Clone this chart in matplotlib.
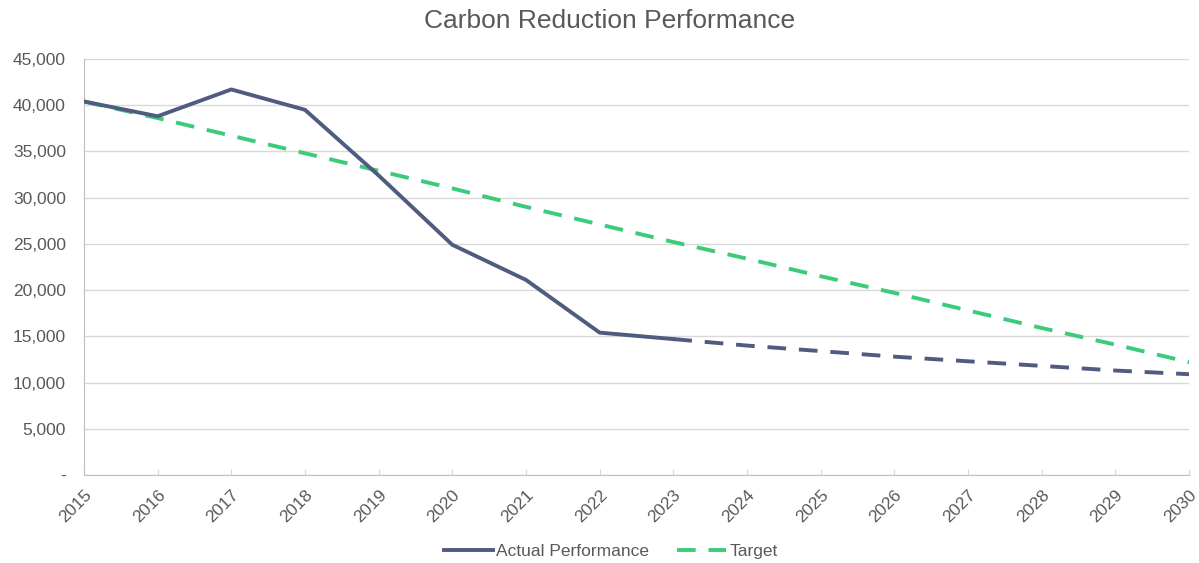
import matplotlib
matplotlib.use('Agg')
import matplotlib.pyplot as plt
from matplotlib.ticker import FuncFormatter

plt.rcParams['font.family'] = ['Liberation Sans', 'DejaVu Sans']

years = list(range(2015, 2031))
actual_years = [2015, 2016, 2017, 2018, 2019, 2020, 2021, 2022, 2023]
actual = [40400, 38800, 41700, 39500, 32400, 24900, 21100, 15400, 14700]
proj_years = [2023, 2024, 2025, 2026, 2027, 2028, 2029, 2030]
projected = [14700, 14000, 13400, 12800, 12300, 11800, 11300, 10900]
target = [40400, 38600, 36700, 34800, 32900, 31000, 29000, 27100,
          25200, 23400, 21500, 19700, 17800, 15900, 14100, 12200]

navy = '#4F5B7F'
green = '#3CCB7A'
grey = '#595959'

fig = plt.figure(figsize=(11.99, 5.63), dpi=100)
ax = fig.add_axes([0.070, 0.1563, 0.9217, 0.739])

ax.plot(years, target, color=green, lw=2.8, dashes=(4.8, 3.3), label='Target', zorder=3)
ax.plot(actual_years, actual, color=navy, lw=2.8, label='Actual Performance', zorder=4)
ax.plot(proj_years, projected, color=navy, lw=2.8, dashes=(4.8, 3.3), zorder=4)

ax.set_xlim(2015, 2030)
ax.set_ylim(0, 45000)
ax.set_xticks(years)
ax.set_xticklabels([str(y) for y in years], rotation=45, ha='right', rotation_mode='anchor')
ax.set_yticks(range(0, 45001, 5000))
ax.yaxis.set_major_formatter(FuncFormatter(lambda v, p: '-' if v == 0 else f'{int(v):,}'))

ax.grid(axis='y', color='#D9D9D9', lw=1)
ax.set_axisbelow(True)
for s in ['top', 'right']:
    ax.spines[s].set_visible(False)
for s in ['left', 'bottom']:
    ax.spines[s].set_color('#BFBFBF')
ax.tick_params(axis='y', length=0, labelsize=12.5, colors=grey, pad=13)
ax.tick_params(axis='x', direction='in', length=4, color='#D9D9D9', labelsize=12.5, labelcolor=grey, pad=9)
for lbl in ax.get_xticklabels():
    lbl.set_x(lbl.get_position()[0])

fig.text(0.5087, 0.963, 'Carbon Reduction Performance', fontsize=19, color=grey,
         ha='center', va='center')

h, l = ax.get_legend_handles_labels()
fig.legend(h[::-1], l[::-1], loc='center', bbox_to_anchor=(0.5096, 0.02), ncol=2,
           frameon=False, fontsize=12.5, labelcolor=grey, handlelength=2.8,
           handletextpad=0.2, columnspacing=1.6)

fig.savefig('out.png', dpi=100)
